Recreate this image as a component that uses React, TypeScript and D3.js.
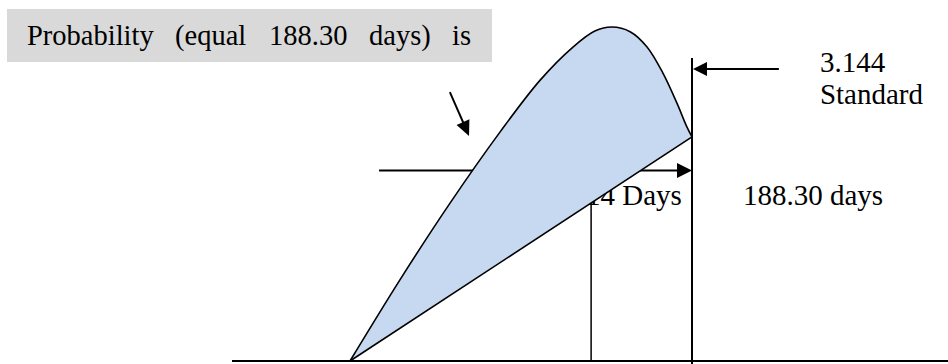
import React from "react";
import * as d3 from "d3";

// Schematic coordinates: x = 0 at the curve's start, 100 at the standard line;
// y = 0 at the baseline, 100 at the curve's peak.
const curveX = [0, 14.6, 29.2, 43.9, 55.6, 65.2, 71.6, 76.6, 81.9, 86.8, 91.5, 95.6, 98.5, 100];
const curveY = [0, 24.3, 47.2, 68.6, 84.1, 94.0, 98.8, 100, 98.6, 94.1, 86.2, 77.2, 70.1, 67.1];
const diagonalEnd = [100, 67.1];
const innerLineX = 70.5;
const standardTop = 90.7;
const midArrow = { y: 57.0, from: 8.5, to: 100 };
const topArrow = { y: 87.4, from: 125.4, to: 100 };
const pointer = { from: [29.2, 80.5], to: [34.8, 67.4] };
const baselineFrom = -34.5;

const boxWords = ["Probability", "(equal", "188.30", "days)", "is"];
const boxWordX = [27, 175, 269, 369, 452];
const labels = [
  { text: "14 Days", x: 69, y: 46.7 },
  { text: "188.30 days", x: 114.9, y: 46.7 },
  { text: "3.144", x: 137.4, y: 86.5 },
  { text: "Standard", x: 137.4, y: 76.9 },
];

const W = 948;
const H = 364;
const x = d3.scaleLinear().domain([0, 100]).range([350, 692]);
const y = d3.scaleLinear().domain([0, 100]).range([361, 27]);

function arrowHead(tx: number, ty: number, fx: number, fy: number, len: number, half: number) {
  const dx = tx - fx, dy = ty - fy;
  const d = Math.hypot(dx, dy);
  const ux = dx / d, uy = dy / d;
  const bx = tx - ux * len, by = ty - uy * len;
  const px = -uy * half, py = ux * half;
  return `M${tx},${ty}L${bx + px},${by + py}L${bx - px},${by - py}Z`;
}

export default function App() {
  const pts: [number, number][] = curveX.map((v, i) => [x(v), y(curveY[i])]);
  const upper = d3.line().curve(d3.curveCatmullRom.alpha(0.5))(pts) as string;
  const [ex, ey] = [x(diagonalEnd[0]), y(diagonalEnd[1])];
  const fillPath = upper + `L${x(0)},${y(0)}Z`;
  const slope = diagonalEnd[1] / diagonalEnd[0];
  const font = "'Liberation Serif', 'Times New Roman', serif";

  const maY = y(midArrow.y);
  const taY = y(topArrow.y);
  const pf = [x(pointer.from[0]), y(pointer.from[1])];
  const pt = [x(pointer.to[0]), y(pointer.to[1])];

  return (
    <svg width={W} height={H} style={{ position: "absolute", left: 0, top: 0, background: "#fff" }}>
      <rect x={7} y={9} width={485} height={53} fill="#d9d9d9" />
      {boxWords.map((w, i) => (
        <text key={w} x={boxWordX[i]} y={45} fontFamily={font} fontSize={28.5} fill="#000">
          {w}
        </text>
      ))}

      {labels.map((l) => (
        <text key={l.text} x={x(l.x)} y={y(l.y)} fontFamily={font} fontSize={29} fill="#000">
          {l.text}
        </text>
      ))}

      {/* middle arrow line (under the fill) */}
      <line x1={x(midArrow.from)} y1={maY} x2={x(midArrow.to) - 12} y2={maY} stroke="#000" strokeWidth={2} />
      <path d={arrowHead(x(midArrow.to), maY, x(midArrow.from), maY, 15, 7.5)} fill="#000" />

      <path d={fillPath} fill="#c6d9f0" stroke="none" />
      <path d={upper} fill="none" stroke="#000" strokeWidth={1.6} />
      <line x1={x(0)} y1={y(0)} x2={ex} y2={ey} stroke="#000" strokeWidth={1.6} />

      {/* baseline */}
      <line x1={x(baselineFrom)} y1={y(0)} x2={W} y2={y(0)} stroke="#000" strokeWidth={2} />
      {/* inner vertical */}
      <line x1={x(innerLineX)} y1={y(0)} x2={x(innerLineX)} y2={y(innerLineX * slope)} stroke="#000" strokeWidth={1.5} />
      {/* standard line */}
      <line x1={x(100)} y1={y(standardTop)} x2={x(100)} y2={H} stroke="#000" strokeWidth={2} />

      {/* top arrow */}
      <line x1={x(topArrow.from)} y1={taY} x2={x(topArrow.to) + 12} y2={taY} stroke="#000" strokeWidth={2} />
      <path d={arrowHead(x(topArrow.to) + 1, taY, x(topArrow.from), taY, 14, 7)} fill="#000" />

      {/* pointer arrow */}
      <line x1={pf[0]} y1={pf[1]} x2={pt[0] - (pt[0] - pf[0]) * 0.25} y2={pt[1] - (pt[1] - pf[1]) * 0.25} stroke="#000" strokeWidth={2} />
      <path d={arrowHead(pt[0], pt[1], pf[0], pf[1], 15, 7)} fill="#000" />
    </svg>
  );
}
